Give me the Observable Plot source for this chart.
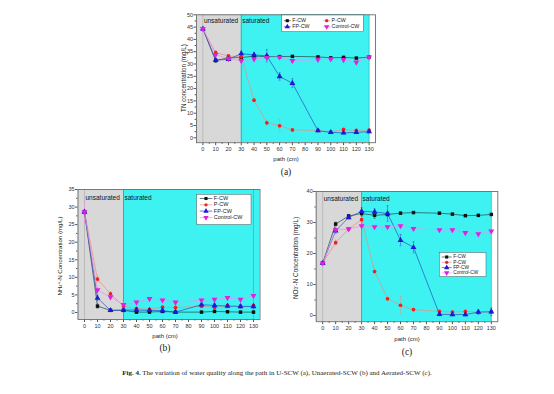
<!DOCTYPE html>
<html><head><meta charset="utf-8">
<script src="https://cdn.jsdelivr.net/npm/d3@7"></script>
<script src="https://cdn.jsdelivr.net/npm/@observablehq/plot@0.6"></script>
<style>
body{margin:0;background:#fff;}
#wrap{position:relative;width:554px;height:394px;overflow:hidden;font-family:"Liberation Sans",Arial,sans-serif;}
.panel{position:absolute;}
.xl{position:absolute;font-size:6px;color:#222;transform:translate(-50%,-50%);white-space:nowrap;}
.pl{position:absolute;font-family:"Liberation Serif","DejaVu Serif",serif;font-size:9.5px;color:#222;transform:translate(-50%,-50%);}
#cap{position:absolute;left:0;width:554px;top:369px;text-align:center;font-family:"Liberation Serif","DejaVu Serif",serif;font-size:7px;color:#222;}
</style></head>
<body><div id="wrap">
<div class="panel" id="pa" style="left:150px;top:0px"></div>
<div class="panel" id="pb" style="left:30px;top:180px"></div>
<div class="panel" id="pc" style="left:270px;top:180px"></div>
<div class="xl" style="left:286px;top:159px">path (cm)</div>
<div class="xl" style="left:165px;top:336px">path (cm)</div>
<div class="xl" style="left:407px;top:339px">path (cm)</div>
<div class="pl" style="left:286px;top:172px">(a)</div>
<div class="pl" style="left:165px;top:348px">(b)</div>
<div class="pl" style="left:407px;top:352px">(c)</div>
<div id="cap"><b>Fig. 4.</b> The variation of water quality along the path in U-SCW (a), Unaerated-SCW (b) and Aerated-SCW (c).</div>
</div>
<script>
// ---------- data ----------
const pathCm = [0, 10, 20, 30, 40, 50, 60, 70, 90, 100, 110, 120, 130];
const seriesNames = ["F-CW", "P-CW", "FP-CW", "Control-CW"];

// (a) TN concentration (mg/L)
const tnF  = [44.3, 31.4, 32.5, 32.6, 33.2, 33.0, 33.0, 33.1, 32.9, 32.5, 32.7, 32.4, 32.8];
const tnP  = [44.3, 34.6, 33.3, 32.9, 15.3, 6.1, 4.9, 3.2, 3.0, 2.4, 3.4, 3.0, 3.1];
const tnFP = [44.3, 31.6, 31.9, 34.2, 33.7, 33.3, 24.9, 22.2, 2.9, 2.2, 2.0, 2.2, 2.5];
const tnC  = [44.3, 33.8, 32.1, 31.3, 32.0, 32.6, 32.8, 31.3, 31.8, 32.0, 31.7, 30.7, 32.8];
// error-bar half widths (a)
const tnErrF  = [0.3, 0.8, 0.5, 0.6, 1.0, 0.5, 0.3, 0.3, 0.3, 0.3, 0.3, 0.3, 0.3];
const tnErrP  = [0.3, 0.8, 0.5, 0.5, 0.8, 1.0, 2.5, 0.5, 0.4, 0.3, 0.4, 0.3, 0.3];
const tnErrFP = [0.3, 0.5, 0.5, 1.0, 1.0, 2.5, 1.5, 1.8, 0.5, 0.5, 0.5, 0.5, 0.5];
const tnErrC  = [0.3, 0.8, 0.5, 1.5, 1.2, 1.0, 0.5, 0.5, 0.5, 0.5, 0.5, 0.5, 0.3];

// (b) NH4+-N concentration (mg/L)
const nhF  = [28.6, 1.8, 0.6, 0.6, 0.1, 0.1, 0.3, 0.1, 0.1, 0.3, 0.2, 0.1, 0.1];
const nhP  = [28.6, 9.5, 5.3, 1.8, 1.1, 0.9, 1.5, 1.4, 1.8, 1.4, 2.0, 1.8, 2.0];
const nhFP = [28.6, 4.1, 0.6, 0.7, 0.7, 0.6, 0.5, 0.1, 2.2, 2.0, 1.8, 1.7, 1.7];
const nhC  = [28.6, 6.4, 4.4, 2.2, 2.9, 3.9, 3.5, 2.9, 3.5, 3.7, 4.2, 3.7, 4.8];
// error-bar half widths (b)
const nhErrF  = [0.5, 0.6, 0.2, 0.2, 0.2, 0.2, 0.2, 0.2, 0.2, 0.2, 0.2, 0.2, 0.2];
const nhErrP  = [0.5, 0.8, 0.6, 0.5, 0.4, 0.4, 0.5, 0.5, 0.5, 0.5, 0.5, 0.5, 0.5];
const nhErrFP = [0.5, 0.8, 0.3, 0.3, 0.3, 0.3, 0.3, 0.3, 0.6, 0.6, 0.5, 0.5, 0.5];
const nhErrC  = [3.0, 0.8, 0.6, 0.6, 0.6, 0.5, 0.5, 0.5, 0.5, 0.6, 0.5, 0.5, 0.6];

// (c) NO3--N concentration (mg/L)
const noF  = [16.9, 29.5, 32.1, 32.9, 32.3, 32.6, 33.0, 33.2, 33.0, 32.7, 32.2, 32.3, 32.6];
const noP  = [16.9, 23.5, 27.9, 30.9, 14.2, 5.4, 3.3, 1.9, 1.3, 1.1, 1.3, 1.1, 1.2];
const noFP = [16.9, 27.3, 31.6, 33.6, 33.4, 32.9, 24.3, 22.0, 0.4, 0.3, 0.3, 1.1, 1.2];
const noC  = [16.9, 27.6, 27.9, 28.9, 28.6, 28.6, 28.9, 28.0, 27.6, 27.6, 26.7, 26.3, 27.2];
// error-bar half widths (c)
const noErrF  = [0.3, 0.6, 0.5, 0.8, 1.0, 0.6, 0.4, 0.3, 0.3, 0.3, 0.3, 0.3, 0.3];
const noErrP  = [0.3, 0.8, 0.5, 0.8, 0.8, 0.6, 2.8, 0.5, 0.5, 0.4, 0.4, 0.4, 0.4];
const noErrFP = [0.3, 0.8, 0.5, 1.2, 1.0, 2.5, 1.8, 1.8, 0.5, 0.4, 0.4, 0.8, 1.2];
const noErrC  = [0.3, 0.6, 0.4, 0.5, 0.5, 0.5, 0.5, 0.5, 0.5, 0.5, 0.5, 0.5, 1.0];

// zones and ticks
const zoneNames = ["unsaturated", "saturated"];
const zoneFrom = [-5, 30];
const zoneTo = [30, 130];
const xTicks = [0, 10, 20, 30, 40, 50, 60, 70, 80, 90, 100, 110, 120, 130];
const xMinor = [5, 15, 25, 35, 45, 55, 65, 75, 85, 95, 105, 115, 125];
const yTicksA = [0, 5, 10, 15, 20, 25, 30, 35, 40, 45, 50];
const yTicksB = [0, 5, 10, 15, 20, 25, 30, 35];
const yTicksC = [0, 10, 20, 30, 40];

// ---------- styles ----------
const triDown = {
  draw(ctx, size) {
    const y = -Math.sqrt(size / (Math.sqrt(3) * 3));
    ctx.moveTo(0, -2 * y);
    ctx.lineTo(-Math.sqrt(3) * y, y);
    ctx.lineTo(Math.sqrt(3) * y, y);
    ctx.closePath();
  }
};
const sty = [
  {sym: "square", fill: "#111111", line: "#1d4a4a", r: 1.95, d3sym: d3.symbolSquare},
  {sym: "circle", fill: "#ee2020", line: "#f08a80", r: 1.85, d3sym: d3.symbolCircle},
  {sym: "triangle", fill: "#1a1ad8", line: "#2a4ec0", r: 2.2, d3sym: d3.symbolTriangle},
  {sym: triDown, fill: "#e020e0", line: "#f08cf0", r: 2.2, d3sym: triDown}
];
const FONT = "Liberation Sans, Arial, sans-serif";

function panel(cfg) {
  const zones = zoneNames.map((n, i) => ({name: n, from: zoneFrom[i], to: i === 1 ? cfg.cyanEnd : zoneTo[i], lx: i === 0 ? 0 : 30}));
  const marks = [
    Plot.rect([zones[0]], {x1: "from", x2: "to", y1: cfg.yDomain[0], y2: cfg.yDomain[1], fill: "#d8d8d8"}),
    Plot.rect([zones[1]], {x1: "from", x2: "to", y1: cfg.yDomain[0], y2: cfg.yDomain[1], fill: "#3ff2f2"}),
    Plot.ruleX([0], {stroke: "#a8a8a8", strokeWidth: 0.6}),
    Plot.ruleX([30], {stroke: "#4a9090", strokeWidth: 0.8}),
    Plot.ruleX([zoneTo[1]], {stroke: "#30a8a8", strokeWidth: 0.6}),
    Plot.text(zones, {x: "lx", y: cfg.yDomain[1], text: "name", textAnchor: "start", dx: 1, dy: cfg.zoneDy, fontSize: 6.5, fill: "#111"})
  ];
  const tables = cfg.series.map((vals, k) => pathCm.map((p, i) => ({
    x: p, y: vals[i], lo: vals[i] - cfg.errs[k][i], hi: vals[i] + cfg.errs[k][i], cx1: p - 0.8, cx2: p + 0.8
  })));
  tables.forEach((rows, k) => {
    marks.push(Plot.ruleX(rows, {x: "x", y1: "lo", y2: "hi", stroke: sty[k].line, strokeWidth: 0.5}));
    marks.push(Plot.link(rows, {x1: "cx1", x2: "cx2", y1: "hi", y2: "hi", stroke: sty[k].line, strokeWidth: 0.5}));
    marks.push(Plot.link(rows, {x1: "cx1", x2: "cx2", y1: "lo", y2: "lo", stroke: sty[k].line, strokeWidth: 0.5}));
  });
  tables.forEach((rows, k) => {
    marks.push(Plot.line(rows, {x: "x", y: "y", stroke: sty[k].line, strokeWidth: 0.7}));
  });
  tables.forEach((rows, k) => {
    marks.push(Plot.dot(rows, {x: "x", y: "y", symbol: sty[k].sym, fill: sty[k].fill, r: sty[k].r, stroke: "none"}));
  });
  marks.push(
    Plot.axisX(xTicks, {tickSize: 3, tickPadding: 1.5, fontSize: 5.5, label: null, stroke: "#555", fill: "#333"}),
    Plot.axisX(xMinor, {tickSize: 1.6, tickFormat: () => "", label: null, stroke: "#555"}),
    Plot.axisY(cfg.yTicks, {tickSize: 2.5, tickPadding: 1, fontSize: 5.5, label: null, stroke: "#555", fill: "#333"}),
    Plot.axisY(cfg.yMinor, {tickSize: 1.4, tickFormat: () => "", label: null, stroke: "#555"}),
    Plot.frame({stroke: "#6e6e6e", strokeWidth: 0.9})
  );
  const svg = Plot.plot({
    width: cfg.width, height: cfg.height,
    marginLeft: cfg.ml, marginRight: cfg.mr, marginTop: cfg.mt, marginBottom: cfg.mb,
    x: {domain: [-5, 135]},
    y: {domain: cfg.yDomain},
    style: {fontFamily: FONT, background: "transparent", overflow: "visible"},
    marks
  });
  const s = d3.select(svg);
  // y axis title
  const t = s.append("text")
    .attr("transform", `translate(${cfg.ylx},${cfg.yly}) rotate(-90)`)
    .attr("text-anchor", "middle").attr("dominant-baseline", "middle")
    .attr("font-size", cfg.ylfs).attr("fill", "#222").attr("font-family", FONT);
  cfg.ylabel.forEach(([txt, kind]) => {
    const ts = t.append("tspan").text(txt);
    if (kind === "sub") ts.attr("font-size", cfg.ylfs * 0.7).attr("baseline-shift", "-25%");
    if (kind === "sup") ts.attr("font-size", cfg.ylfs * 0.7).attr("baseline-shift", "40%");
  });
  // legend
  const L = cfg.legend;
  const g = s.append("g").attr("font-family", FONT).attr("font-size", L.fs).attr("text-anchor", "start");
  g.append("rect").attr("x", L.x0).attr("y", L.y0).attr("width", L.w).attr("height", L.h)
    .attr("fill", "#fff").attr("stroke", "#555").attr("stroke-width", 0.5);
  seriesNames.forEach((name, k) => {
    const [lx, ly] = L.pos[k];
    g.append("line").attr("x1", lx - L.half).attr("x2", lx + L.half).attr("y1", ly).attr("y2", ly)
      .attr("stroke", sty[k].line).attr("stroke-width", 0.7);
    g.append("path").attr("transform", `translate(${lx},${ly})`)
      .attr("d", d3.symbol(sty[k].d3sym, Math.PI * sty[k].r * sty[k].r * 0.8)())
      .attr("fill", sty[k].fill);
    g.append("text").attr("x", lx + L.half + 1.5).attr("y", ly).attr("dominant-baseline", "middle")
      .attr("text-anchor", "start").attr("fill", "#222").text(name);
  });
  document.getElementById(cfg.el).appendChild(svg);
}

panel({
  el: "pa", width: 240, height: 180, ml: 46, mr: 15, mt: 14.3, mb: 37.8,
  yDomain: [-2, 50], yTicks: yTicksA, yMinor: yTicksA.slice(0, -1).map(v => v + 2.5),
  cyanEnd: 130.5, zoneDy: 6.4,
  series: [tnF, tnP, tnFP, tnC], errs: [tnErrF, tnErrP, tnErrFP, tnErrC],
  ylabel: [["TN concentration (mg/L)", ""]], ylx: 33.5, yly: 78, ylfs: 6.3,
  legend: {x0: 131.7, y0: 15, w: 81.6, h: 16.7, fs: 5.3, half: 3.4,
    pos: [[137.3, 20.7], [176.7, 20.7], [137.3, 26.7], [176.7, 26.7]]}
});
panel({
  el: "pb", width: 240, height: 160, ml: 47.5, mr: 10.5, mt: 9, mb: 21,
  yDomain: [-2, 35], yTicks: yTicksB, yMinor: yTicksB.slice(0, -1).map(v => v + 2.5),
  cyanEnd: 135, zoneDy: 8.3,
  series: [nhF, nhP, nhFP, nhC], errs: [nhErrF, nhErrP, nhErrFP, nhErrC],
  ylabel: [["NH", ""], ["4", "sub"], ["+", "sup"], ["-N Concentration (mg/L)", ""]], ylx: 29.5, yly: 76, ylfs: 6.1,
  legend: {x0: 166.7, y0: 14.3, w: 54.3, h: 30.2, fs: 5.5, half: 6.3,
    pos: [[176, 18.5], [176, 24.8], [176, 31.1], [176, 37.6]]}
});
panel({
  el: "pc", width: 240, height: 160, ml: 45.7, mr: 12.7, mt: 11, mb: 18.8,
  yDomain: [-2, 40], yTicks: yTicksC, yMinor: yTicksC.slice(0, -1).map(v => v + 5),
  cyanEnd: 130.5, zoneDy: 7.3,
  series: [noF, noP, noFP, noC], errs: [noErrF, noErrP, noErrFP, noErrC],
  ylabel: [["NO", ""], ["3", "sub"], ["-", "sup"], ["-N Concentration (mg/L)", ""]], ylx: 26, yly: 78, ylfs: 6.4,
  legend: {x0: 169.3, y0: 72.5, w: 46.7, h: 24, fs: 4.8, half: 5,
    pos: [[176.7, 77], [176.7, 82.3], [176.7, 87.6], [176.7, 92.9]]}
});
</script>
</body></html>
